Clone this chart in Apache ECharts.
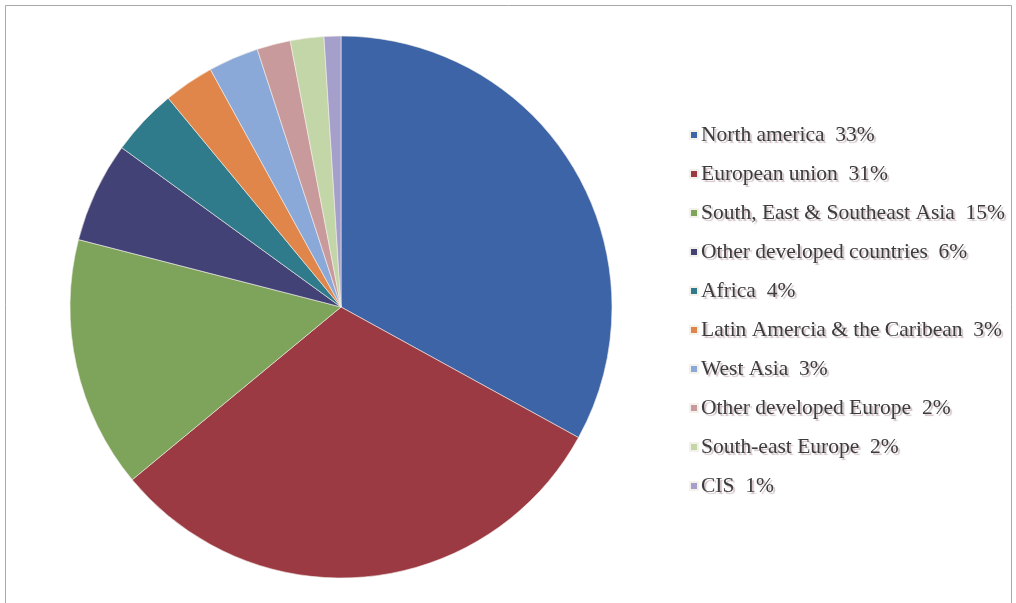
<!DOCTYPE html>
<html>
<head>
<meta charset="utf-8">
<script src="https://cdn.jsdelivr.net/npm/echarts@6/dist/echarts.min.js"></script>
<style>
  html, body { margin: 0; padding: 0; background: #ffffff; }
  #chart { width: 1016px; height: 603px; }
</style>
</head>
<body>
<div id="chart"></div>
<script>
// Regional shares (%)
const regions = [
  'North america',
  'European union',
  'South, East & Southeast Asia',
  'Other developed countries',
  'Africa',
  'Latin Amercia & the Caribean',
  'West Asia',
  'Other developed Europe',
  'South-east Europe',
  'CIS'
];
const shares = [33, 31, 15, 6, 4, 3, 3, 2, 2, 1];
const sliceColors = [
  '#3d64a6', '#9c3a44', '#7ea35a', '#434277', '#2f7b8c',
  '#e0864a', '#8aa9d8', '#c99a9c', '#c3d6a8', '#a49fcb'
];

const chart = echarts.init(document.getElementById('chart'));
chart.setOption({
  animation: false,
  backgroundColor: '#ffffff',
  graphic: [{
    type: 'rect',
    shape: { x: 5.5, y: 5.5, width: 1006, height: 610 },
    style: { fill: 'none', stroke: '#a8a8a8', lineWidth: 1 },
    silent: true
  }],
  legend: {
    orient: 'vertical',
    left: 684,
    top: 119,
    itemWidth: 8,
    itemHeight: 8,
    itemGap: 17,
    icon: 'rect',
    data: regions,
    formatter: function (name) {
      const i = regions.indexOf(name);
      return name + '  ' + shares[i] + '%';
    },
    textStyle: {
      fontFamily: 'Liberation Serif',
      fontSize: 21.5,
      lineHeight: 21,
      color: '#3c3c3c',
      padding: [0, 0, 0, -2],
      textShadowColor: 'rgba(170,140,150,0.55)',
      textShadowOffsetX: 2,
      textShadowOffsetY: 2,
      textShadowBlur: 1
    }
  },
  series: [{
    type: 'pie',
    center: [341, 307],
    radius: 271,
    startAngle: 90,
    clockwise: true,
    label: { show: false },
    labelLine: { show: false },
    itemStyle: { borderColor: '#f4f0ea', borderWidth: 0.6 },
    data: regions.map((name, i) => ({
      name: name,
      value: shares[i],
      itemStyle: { color: sliceColors[i] }
    }))
  }]
});
</script>
</body>
</html>
